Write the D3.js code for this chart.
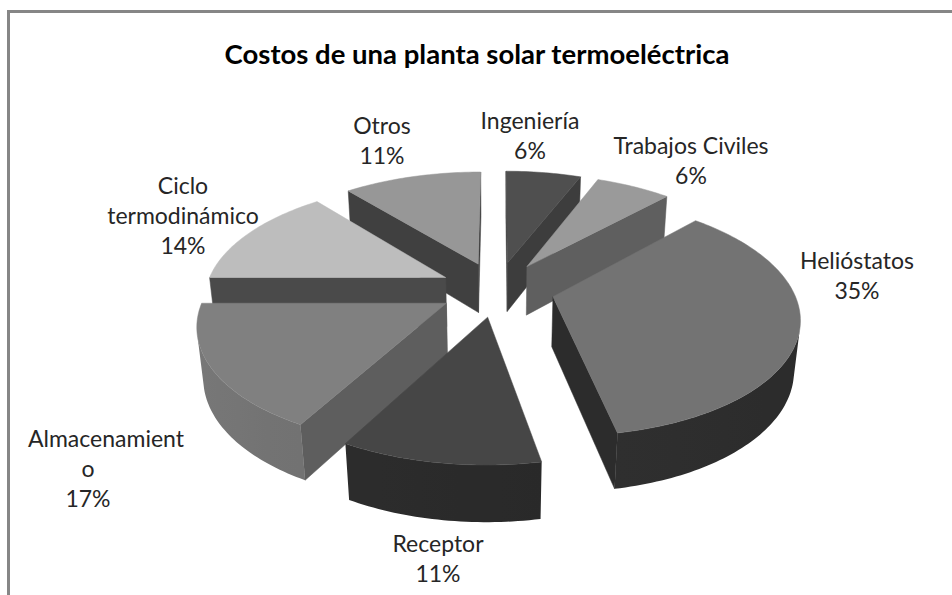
<!DOCTYPE html>
<html>
<head>
<meta charset="utf-8">
<script src="https://cdn.jsdelivr.net/npm/d3@7"></script>
<style>
  body { margin: 0; background: #fff; }
  text { font-family: Lato, "Open Sans", sans-serif; fill: #262626; }
</style>
</head>
<body>
<svg id="chart" width="952" height="595"></svg>
<script>
/* 3D exploded pie, drawn as projected polygons (painter's order).
   Angles come from d3.pie, clockwise from 12 o'clock like Excel. */

const categories = ['Ingeniería', 'Trabajos Civiles', 'Helióstatos', 'Receptor',
  'Almacenamiento', 'Ciclo termodinámico', 'Otros'];
const values = [6, 6, 35, 11, 17, 14, 11];
// how Excel wrapped the category names
const labelLines = [['Ingeniería'], ['Trabajos Civiles'], ['Helióstatos'], ['Receptor'],
  ['Almacenamient', 'o'], ['Ciclo', 'termodinámico'], ['Otros']];

const topFill = ['#4f4f4f', '#9a9a9a', '#737373', '#464646', '#808080', '#bdbdbd', '#979797'];
const cutFill = ['#3d3d3d', '#5f5f5f', '#2c2c2c', '#2a2a2a', '#5e5e5e', '#4a4a4a', '#404040'];
const wallFill = ['#383838', '#555555', '#303030', '#2a2a2a', '#6c6c6c', '#707070', '#5a5a5a'];

const W = 952, H = 595;
const view = {
  cx: 497, cy: 289,      // screen position of the pie axis (top face)
  scale: 240,            // px per radius at mid depth
  tilt: 28.4 * Math.PI / 180,
  dist: 5.5,             // camera distance, in radii
  depth: 0.24,           // pie thickness, in radii
  explode: 0.24,
};
// label anchors: [center x, first line baseline]
const labelAnchor = [[530, 129], [691, 154], [857, 269], [438, 552], [88, 447], [183, 194], [382, 134]];
const LINE = 30;

const svg = d3.select('#chart');
const defs = svg.append('defs');

svg.append('rect')
  .attr('x', 8.5).attr('y', 11.5)
  .attr('width', W + 40).attr('height', H + 40)
  .attr('fill', '#fff')
  .attr('stroke', '#868686')
  .attr('stroke-width', 3);

svg.append('text')
  .attr('x', 477).attr('y', 64)
  .attr('text-anchor', 'middle')
  .style('font-size', '27.5px')
  .style('font-weight', 'bold')
  .style('fill', '#000')
  .text('Costos de una planta solar termoeléctrica');

const cosT = Math.cos(view.tilt), sinT = Math.sin(view.tilt);
const camPos = [0, view.dist * sinT, -view.dist * cosT];

function project([x, y, z]) {
  const d = z * cosT - y * sinT;
  const sy = y * cosT + z * sinT;
  const k = view.dist / (view.dist + d);
  return [view.cx + view.scale * x * k, view.cy - view.scale * sy * k];
}

function slicePoint(d, a, r, y) {
  const m = (d.startAngle + d.endAngle) / 2;
  return [view.explode * Math.sin(m) + r * Math.sin(a), y,
          view.explode * Math.cos(m) + r * Math.cos(a)];
}

function facing(normal, p) {
  const v = [camPos[0] - p[0], camPos[1] - p[1], camPos[2] - p[2]];
  return normal[0] * v[0] + normal[1] * v[1] + normal[2] * v[2] > 0;
}

const wallShade = (i, a) => d3.color(wallFill[i]).brighter(-0.3 * Math.sin(a)).formatHex();

const slices = d3.pie().sort(null).value(d => d)(values);

function buildFaces(d) {
  const i = d.index, t = -view.depth;
  const a0 = d.startAngle, a1 = d.endAngle;
  const steps = Math.max(4, Math.ceil((a1 - a0) / 0.02));
  const angles = d3.range(steps + 1).map(j => a0 + (a1 - a0) * j / steps);
  const apexTop = slicePoint(d, 0, 0, 0), apexBot = slicePoint(d, 0, 0, t);
  const faces = [];

  faces.push({ pts: [apexTop, slicePoint(d, a0, 1, 0), slicePoint(d, a0, 1, t), apexBot],
    normal: [-Math.cos(a0), 0, Math.sin(a0)], fill: cutFill[i] });
  faces.push({ pts: [apexTop, slicePoint(d, a1, 1, 0), slicePoint(d, a1, 1, t), apexBot],
    normal: [Math.cos(a1), 0, -Math.sin(a1)], fill: cutFill[i] });

  // outer wall: keep the angles whose wall faces the camera, as one polygon
  const seen = angles.filter(a => facing([Math.sin(a), 0, Math.cos(a)], slicePoint(d, a, 1, 0)));
  if (seen.length > 1) {
    const top = seen.map(a => slicePoint(d, a, 1, 0));
    const bottom = seen.map(a => slicePoint(d, a, 1, t)).reverse();
    const xs = seen.map(a => project(slicePoint(d, a, 1, 0))[0]);
    const x1 = xs[0], x2 = xs[xs.length - 1];
    const id = 'wall-' + i;
    const grad = defs.append('linearGradient')
      .attr('id', id)
      .attr('gradientUnits', 'userSpaceOnUse')
      .attr('x1', x1).attr('x2', x2).attr('y1', 0).attr('y2', 0);
    d3.range(6).forEach(s => {
      const j = Math.round(s / 5 * (seen.length - 1));
      grad.append('stop')
        .attr('offset', x2 === x1 ? 0 : (xs[j] - x1) / (x2 - x1))
        .attr('stop-color', wallShade(i, seen[j]));
    });
    faces.push({ pts: top.concat(bottom), fill: `url(#${id})`, wall: true });
  }

  faces.push({ pts: [apexTop, ...angles.map(a => slicePoint(d, a, 1, 0))],
    normal: [0, 1, 0], fill: topFill[i] });

  return faces.filter(f => f.wall || facing(f.normal, f.pts[0]));
}

function distToCamera(d) {
  const c = slicePoint(d, (d.startAngle + d.endAngle) / 2, 0.55, -view.depth / 2);
  return Math.hypot(c[0] - camPos[0], c[1] - camPos[1], c[2] - camPos[2]);
}

const ordered = slices.slice().sort((a, b) => distToCamera(b) - distToCamera(a));
const line = d3.line();

const sliceG = svg.append('g')
  .selectAll('g')
  .data(ordered)
  .join('g')
  .attr('class', 'slice');

sliceG.selectAll('path')
  .data(d => buildFaces(d))
  .join('path')
  .attr('d', f => line(f.pts.map(project)) + 'Z')
  .attr('fill', f => f.fill)
  .attr('stroke', f => f.wall ? 'none' : f.fill)
  .attr('stroke-width', 0.5)
  .attr('stroke-linejoin', 'round');

const total = d3.sum(values);
const labels = svg.append('g')
  .selectAll('text')
  .data(slices)
  .join('text')
  .attr('text-anchor', 'middle')
  .style('font-size', '23px');

labels.each(function (d) {
  const [x, y] = labelAnchor[d.index];
  const lines = labelLines[d.index].concat([Math.round(d.value / total * 100) + '%']);
  d3.select(this).selectAll('tspan')
    .data(lines)
    .join('tspan')
    // the over-long first line of "Almacenamiento" starts at the box edge
    .attr('x', (l, j) => (d.index === 4 && j === 0) ? 28 : x)
    .attr('text-anchor', (l, j) => (d.index === 4 && j === 0) ? 'start' : 'middle')
    .attr('y', (l, j) => y + j * LINE)
    .text(l => l);
});
</script>
</body>
</html>
